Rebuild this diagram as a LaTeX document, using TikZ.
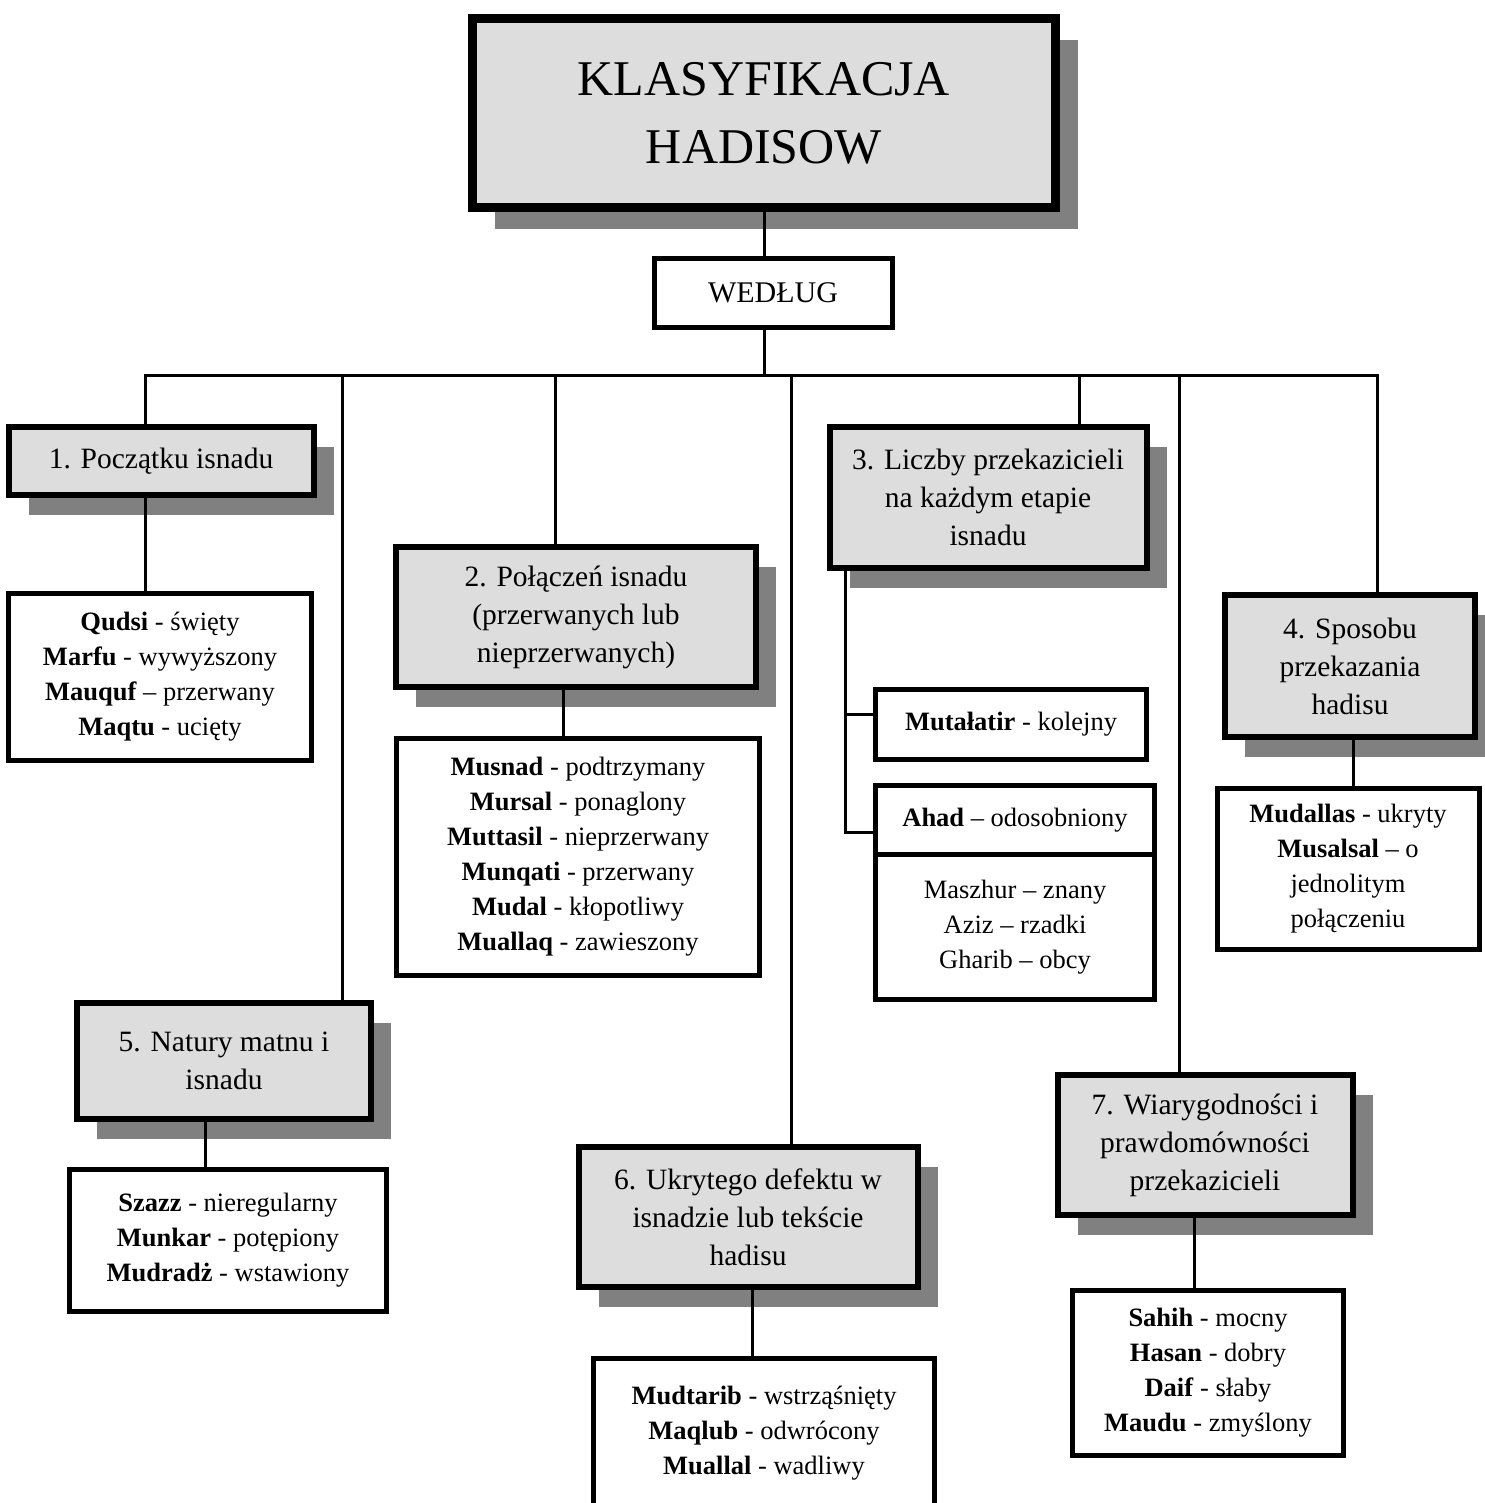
\documentclass[tikz,border=0pt]{standalone}
\usepackage{fontspec}
\setmainfont{Liberation Serif}
\usetikzlibrary{shadows}
\definecolor{boxgray}{HTML}{DDDDDD}
\definecolor{shadegray}{HTML}{808080}

\tikzset{
  glowny/.style={draw,line width=9pt,fill=boxgray,align=center,
    font=\fontsize{50}{68}\selectfont,
    drop shadow={shadow xshift=22pt,shadow yshift=-22pt,fill=shadegray,opacity=1}},
  wedlug/.style={draw,line width=5pt,fill=white,align=center,
    font=\fontsize{30}{38}\selectfont},
  naglowek/.style={draw,line width=6pt,fill=boxgray,align=center,
    font=\fontsize{29.5}{38}\selectfont,
    drop shadow={shadow xshift=20pt,shadow yshift=-20pt,fill=shadegray,opacity=1}},
  opis/.style={draw,line width=5pt,fill=white,align=center,
    font=\fontsize{26.5}{35}\selectfont},
  linia/.style={line width=3pt,line cap=rect},
}

\begin{document}
\begin{tikzpicture}[x=1pt,y=-1pt]
            \useasboundingbox (0,0) rectangle (1484,1503);

            % gora
            \node[glowny,minimum width=583pt,minimum height=189pt] (t) at (764,113)
              {KLASYFIKACJA\\HADISOW};
            \node[wedlug,minimum width=238pt,minimum height=69pt] (w) at (773,293) {WEDŁUG};

            % naglowki
            \node[naglowek,minimum width=305pt,minimum height=68pt] (h1) at (161,461)
              {1. Początku isnadu};
            \node[naglowek,minimum width=360pt,minimum height=140pt] (h2) at (576,617)
              {2. Połączeń isnadu\\(przerwanych lub\\nieprzerwanych)};
            \node[naglowek,minimum width=317pt,minimum height=141pt] (h3) at (988,497)
              {3. Liczby przekazicieli\\na każdym etapie\\isnadu};
            \node[naglowek,minimum width=250pt,minimum height=142pt] (h4) at (1350,666)
              {4. Sposobu\\przekazania\\hadisu};
            \node[naglowek,minimum width=294pt,minimum height=116pt] (h5) at (224,1061)
              {5. Natury matnu i\\isnadu};
            \node[naglowek,minimum width=339pt,minimum height=140pt] (h6) at (748,1217)
              {6. Ukrytego defektu w\\isnadzie lub tekście\\hadisu};
            \node[naglowek,minimum width=295pt,minimum height=140pt] (h7) at (1205,1145)
              {7. Wiarygodności i\\prawdomówności\\przekazicieli};

            % opisy
            \node[opis,minimum width=303pt,minimum height=167pt] (c1) at (160,677)
              {\textbf{Qudsi} - święty\\\textbf{Marfu} - wywyższony\\
               \textbf{Mauquf} – przerwany\\\textbf{Maqtu} - ucięty};
            \node[opis,minimum width=363pt,minimum height=237pt] (c2) at (578,857)
              {\textbf{Musnad} - podtrzymany\\\textbf{Mursal} - ponaglony\\
               \textbf{Muttasil} - nieprzerwany\\\textbf{Munqati} - przerwany\\
               \textbf{Mudal} - kłopotliwy\\\textbf{Muallaq} - zawieszony};
            \node[opis,minimum width=271pt,minimum height=70pt] (c3a) at (1011,724)
              {\textbf{Mutałatir} - kolejny};
            \node[opis,minimum width=279pt,minimum height=145pt] (c3c) at (1015,927)
              {Maszhur – znany\\Aziz – rzadki\\Gharib – obcy};
            \node[opis,minimum width=279pt,minimum height=69pt] (c3b) at (1015,820)
              {\textbf{Ahad} – odosobniony};
            \node[opis,minimum width=262pt,minimum height=161pt] (c4) at (1348,869)
              {\textbf{Mudallas} - ukryty\\\textbf{Musalsal} – o\\jednolitym\\połączeniu};
            \node[opis,minimum width=317pt,minimum height=142pt] (c5) at (228,1240)
              {\textbf{Szazz} - nieregularny\\\textbf{Munkar} - potępiony\\
               \textbf{Mudradż} - wstawiony};
            \node[opis,minimum width=341pt,minimum height=150pt] (c6) at (764,1433)
              {\textbf{Mudtarib} - wstrząśnięty\\\textbf{Maqlub} - odwrócony\\
               \textbf{Muallal} - wadliwy};
            \node[opis,minimum width=271pt,minimum height=165pt] (c7) at (1208,1373)
              {\textbf{Sahih} - mocny\\\textbf{Hasan} - dobry\\
               \textbf{Daif} - słaby\\\textbf{Maudu} - zmyślony};

            % szyna
            \coordinate (k1) at (145,375);
            \coordinate (k2) at (555,375);
            \coordinate (k3) at (1079,375);
            \coordinate (k4) at (1377,375);
            \coordinate (k5) at (342,375);
            \coordinate (k6) at (791,375);
            \coordinate (k7) at (1179,375);
            \coordinate (s2) at (563,0);
            \coordinate (s3) at (845,0);
            \coordinate (s4) at (1353,0);
            \coordinate (s5) at (205,0);
            \coordinate (s6) at (752,0);
            \coordinate (s7) at (1194,0);

            \draw[linia] (t.south) -- (t.south |- w.north);
            \draw[linia] (w.south -| t.south) -- (k1 -| t.south);
            \draw[linia] (k1) -- (k4);
            \foreach \k/\h in {k1/h1,k2/h2,k3/h3,k4/h4,k5/h5,k6/h6,k7/h7}
              \draw[linia] (\k) -- (\k |- \h.north);

            \draw[linia] (h1.south -| k1) -- (c1.north -| k1);
            \foreach \n in {2,4,5,6,7}
              \draw[linia] (h\n.south -| s\n) -- (c\n.north -| s\n);
            \draw[linia] (h3.south -| s3) |- ([yshift=10pt]c3a.west);
            \draw[linia] (h3.south -| s3) |- ([yshift=-12pt]c3b.west);
\end{tikzpicture}
\end{document}
